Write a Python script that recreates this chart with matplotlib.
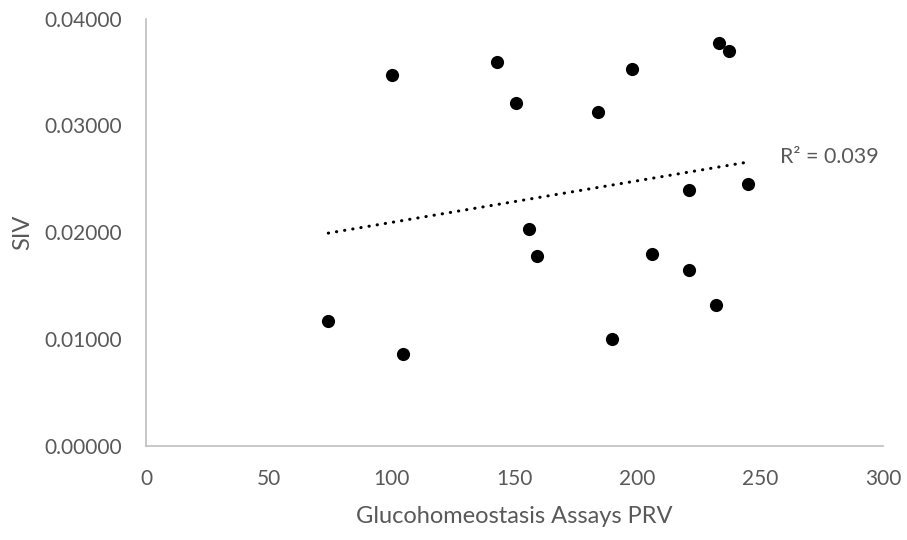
import numpy as np
import matplotlib.pyplot as plt

# Werte
prv = [74.2, 100.2, 104.7, 142.7, 150.7, 155.8, 159.2, 184.0, 189.7,
       197.7, 205.8, 220.9, 221.0, 231.9, 233.3, 237.3, 245.2]
siv = [0.01163, 0.03474, 0.00860, 0.03593, 0.03208, 0.02025, 0.01775, 0.03127, 0.00998,
       0.03527, 0.01794, 0.02393, 0.01644, 0.01313, 0.03773, 0.03696, 0.02447]

x_ticks = [0, 50, 100, 150, 200, 250, 300]
y_ticks = [0.0, 0.01, 0.02, 0.03, 0.04]
r2_label = "R\u00b2 = 0.039"

plt.rcParams['font.family'] = ['Lato', 'DejaVu Sans']
grau = '#595959'

fig = plt.figure(figsize=(9.07, 5.4), dpi=100)
ax = fig.add_axes([0.161, 0.175, 0.8125, 0.7907])

xs = np.array(prv)
ys = np.array(siv)
ax.scatter(xs, ys, s=90, color='black', zorder=3, linewidths=0)

# lineare Trendlinie
k, d = np.polyfit(xs, ys, 1)
xt = np.array([xs.min(), xs.max()])
ax.plot(xt, k * xt + d, color='black', lw=2.2, linestyle=(0, (0.1, 2.6)),
        dash_capstyle='round', zorder=2)
ax.text(258, 0.02703, r2_label, fontsize=15.4, color=grau, ha='left', va='center')

ax.set_xlim(0, 300)
ax.set_ylim(0, 0.04)
ax.set_xticks(x_ticks)
ax.set_yticks(y_ticks)
ax.set_yticklabels(['%.5f' % v for v in y_ticks])
ax.tick_params(axis='both', length=0, labelsize=15, labelcolor=grau)
ax.tick_params(axis='x', pad=17)
ax.tick_params(axis='y', pad=17)

for s in ['top', 'right']:
    ax.spines[s].set_visible(False)
for s in ['left', 'bottom']:
    ax.spines[s].set_color('#BFBFBF')
    ax.spines[s].set_linewidth(1.2)

ax.set_xlabel('Glucohomeostasis Assays PRV', fontsize=17, color=grau, labelpad=12)
ax.set_ylabel('SIV', fontsize=17, color=grau, labelpad=8)

fig.savefig('out.png', dpi=100)
